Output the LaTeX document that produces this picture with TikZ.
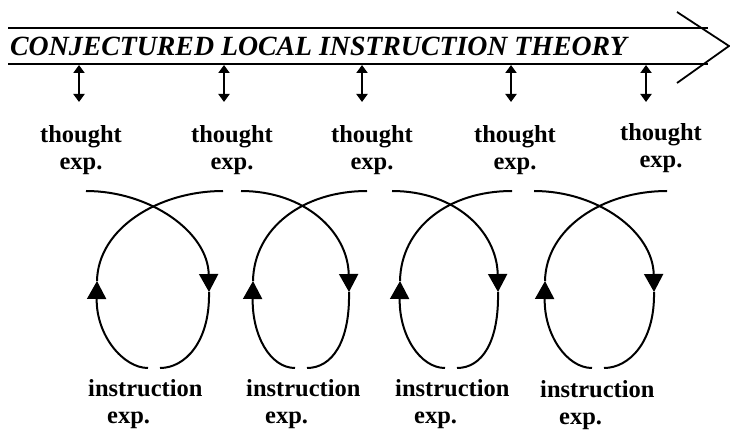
\documentclass[tikz,border=0pt]{standalone}
\usepackage{fontspec}
\setmainfont{Liberation Serif}
\usepackage{tikz}
\usetikzlibrary{arrows.meta}
\tikzstyle{band} = [line width=2.3pt]
\tikzstyle{chevron} = [line width=1.8pt, line join=miter]
\tikzstyle{expnote} = [font=\fontsize{24.5}{27}\selectfont\bfseries, inner sep=0pt]
\tikzstyle{dblarrow} = [line width=2pt, {Triangle[width=11pt,length=8pt]}-{Triangle[width=11pt,length=8pt]}]
\tikzstyle{cycleline} = [line width=2pt]
\tikzstyle{cyclearrow} = [line width=2pt, -{Triangle[width=19pt,length=18pt]}]

\begin{document}
\begin{tikzpicture}[x=1pt, y=-1pt]
\useasboundingbox (0,0) rectangle (730,430);

% theory band
\draw [band] (8,28) -- (708,28);
\draw [band] (8,64) -- (708,64);
\draw [chevron] (677,12) -- (729,46) -- (677,83);
\node (theory) [anchor=base west, inner sep=0pt,
  font=\fontsize{27.8}{30}\selectfont\bfseries\itshape] at (10,56)
  {CONJECTURED LOCAL INSTRUCTION THEORY};

% thought experiments (base = last line)
\foreach \x/\y [count=\i] in {81/170, 232/170, 372/170, 515/170, 661/168}
  \node (th\i) [expnote, align=center, anchor=base] at (\x,\y) {thought\\exp.};

\foreach \x [count=\i] in {79, 224, 362, 511, 646} {
  \coordinate (bar\i) at (\x,65);
  \coordinate (tip\i) at (\x,102);
  \draw [dblarrow] (bar\i) -- (tip\i);
}

% instruction experiments
\foreach \x/\y [count=\i] in {88/423, 246/423, 395/423, 540/424}
  \node (in\i) [expnote, align=left, anchor=base west] at (\x,\y)
    {instruction\\\hspace*{19pt}exp.};

% cycles
\foreach \s/\e/\l/\r/\c in {86/223/97/209/154, 241/367/253/349/301,
                            392/512/400/498/451, 534/667/545/654/598} {
  \draw [cyclearrow] (\s,191) .. controls ({\s+64},191) and ({\r-1},232) .. (\r,292);
  \draw [cycleline] (\r,292) .. controls ({\r+1},342) and ({\c+31},368) .. ({\c+6},368);
  \draw [cyclearrow] ({\c-6},368) .. controls ({\c-31},368) and ({\l-1},335) .. (\l,281);
  \draw [cycleline] (\l,281) .. controls ({\l+1},228) and ({\e-64},191) .. (\e,191);
}

\end{tikzpicture}
\end{document}
